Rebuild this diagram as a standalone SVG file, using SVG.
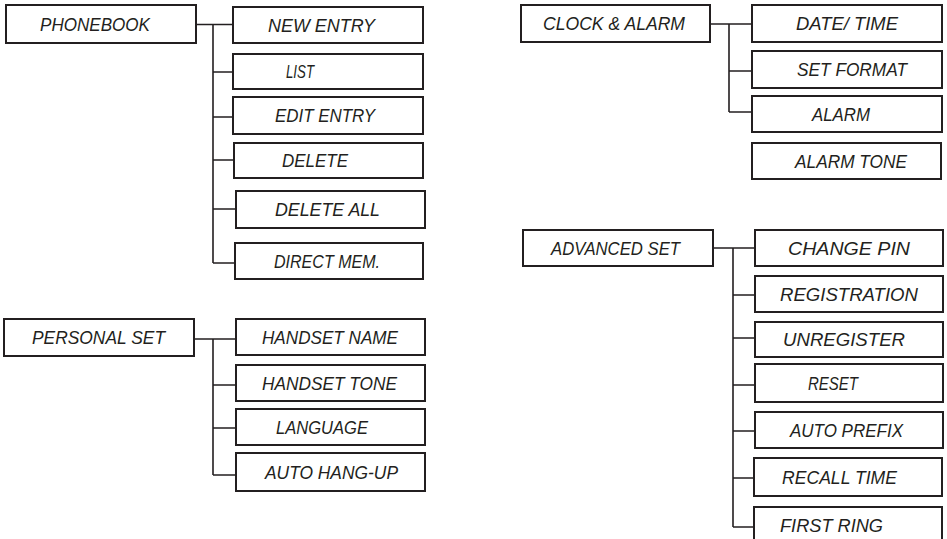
<svg xmlns="http://www.w3.org/2000/svg" width="947" height="539" viewBox="0 0 947 539">
<style>
.box{fill:#fff;stroke:#231f20;stroke-width:2}
.lbl{font-family:"Liberation Sans","DejaVu Sans",sans-serif;font-style:italic;font-size:18px;fill:#231f20}
.con{fill:none;stroke:#231f20;stroke-width:1.6}
</style>
<rect width="947" height="539" fill="#fff"/>
<g id="connectors">
<path class="con" d="M196 24.5H233M213 24.5V263M213 72H233M213 117H233M213 160H234M213 209H236M213 263H235"/>
<path class="con" d="M194 339H236M213 339V475M213 385H236M213 428H236M213 475H236"/>
<path class="con" d="M710 24H752M729 24V112M729 71H752M729 112H752"/>
<path class="con" d="M713 248H755M733 248V527M733 295H755M733 338H755M733 385H755M733 431H755M733 478H754M733 527H754"/>
</g>
<g id="phonebook"><rect class="box" x="6" y="5" width="190" height="38"/><text class="lbl" x="40" y="31" textLength="110" lengthAdjust="spacingAndGlyphs">PHONEBOOK</text></g>
<g id="new-entry"><rect class="box" x="233" y="7" width="190" height="36"/><text class="lbl" x="268" y="31.5" textLength="107" lengthAdjust="spacingAndGlyphs">NEW ENTRY</text></g>
<g id="list"><rect class="box" x="233" y="54" width="190" height="35"/><text class="lbl" x="286" y="78" textLength="28" lengthAdjust="spacingAndGlyphs">LIST</text></g>
<g id="edit-entry"><rect class="box" x="233" y="97" width="190" height="37"/><text class="lbl" x="275" y="122" textLength="100" lengthAdjust="spacingAndGlyphs">EDIT ENTRY</text></g>
<g id="delete"><rect class="box" x="234" y="143" width="189" height="35"/><text class="lbl" x="282" y="167" textLength="66" lengthAdjust="spacingAndGlyphs">DELETE</text></g>
<g id="delete-all"><rect class="box" x="236" y="191" width="189" height="37"/><text class="lbl" x="275" y="216" textLength="105" lengthAdjust="spacingAndGlyphs">DELETE ALL</text></g>
<g id="direct-mem"><rect class="box" x="235" y="243" width="188" height="36"/><text class="lbl" x="274" y="267.5" textLength="106" lengthAdjust="spacingAndGlyphs">DIRECT MEM.</text></g>
<g id="personal-set"><rect class="box" x="4" y="319" width="190" height="37"/><text class="lbl" x="32" y="344" textLength="133" lengthAdjust="spacingAndGlyphs">PERSONAL SET</text></g>
<g id="handset-name"><rect class="box" x="236" y="319" width="189" height="36"/><text class="lbl" x="262" y="343.5" textLength="136" lengthAdjust="spacingAndGlyphs">HANDSET NAME</text></g>
<g id="handset-tone"><rect class="box" x="236" y="365" width="189" height="36"/><text class="lbl" x="262" y="389.5" textLength="135" lengthAdjust="spacingAndGlyphs">HANDSET TONE</text></g>
<g id="language"><rect class="box" x="236" y="409" width="189" height="36"/><text class="lbl" x="276" y="433.5" textLength="92" lengthAdjust="spacingAndGlyphs">LANGUAGE</text></g>
<g id="auto-hang-up"><rect class="box" x="236" y="453" width="189" height="38"/><text class="lbl" x="265" y="478.5" textLength="133" lengthAdjust="spacingAndGlyphs">AUTO HANG-UP</text></g>
<g id="clock-alarm"><rect class="box" x="521" y="5" width="189" height="37"/><text class="lbl" x="543" y="30" textLength="142" lengthAdjust="spacingAndGlyphs">CLOCK &amp; ALARM</text></g>
<g id="date-time"><rect class="box" x="752" y="5" width="190" height="37"/><text class="lbl" x="796" y="30" textLength="102" lengthAdjust="spacingAndGlyphs">DATE/ TIME</text></g>
<g id="set-format"><rect class="box" x="752" y="51" width="190" height="37"/><text class="lbl" x="797" y="76" textLength="110" lengthAdjust="spacingAndGlyphs">SET FORMAT</text></g>
<g id="alarm"><rect class="box" x="752" y="96" width="190" height="36"/><text class="lbl" x="812" y="120.5" textLength="58" lengthAdjust="spacingAndGlyphs">ALARM</text></g>
<g id="alarm-tone"><rect class="box" x="752" y="143" width="189" height="36"/><text class="lbl" x="795" y="167.5" textLength="112" lengthAdjust="spacingAndGlyphs">ALARM TONE</text></g>
<g id="advanced-set"><rect class="box" x="523" y="230" width="190" height="36"/><text class="lbl" x="551" y="254.5" textLength="129" lengthAdjust="spacingAndGlyphs">ADVANCED SET</text></g>
<g id="change-pin"><rect class="box" x="755" y="230" width="188" height="36"/><text class="lbl" x="788" y="254.5" textLength="122" lengthAdjust="spacingAndGlyphs">CHANGE PIN</text></g>
<g id="registration"><rect class="box" x="755" y="276" width="188" height="36"/><text class="lbl" x="780" y="300.5" textLength="138" lengthAdjust="spacingAndGlyphs">REGISTRATION</text></g>
<g id="unregister"><rect class="box" x="755" y="322" width="188" height="35"/><text class="lbl" x="783" y="346" textLength="122" lengthAdjust="spacingAndGlyphs">UNREGISTER</text></g>
<g id="reset"><rect class="box" x="755" y="364" width="188" height="38"/><text class="lbl" x="808" y="389.5" textLength="50" lengthAdjust="spacingAndGlyphs">RESET</text></g>
<g id="auto-prefix"><rect class="box" x="755" y="412" width="188" height="36"/><text class="lbl" x="790" y="436.5" textLength="113" lengthAdjust="spacingAndGlyphs">AUTO PREFIX</text></g>
<g id="recall-time"><rect class="box" x="754" y="458" width="188" height="38"/><text class="lbl" x="782" y="483.5" textLength="115" lengthAdjust="spacingAndGlyphs">RECALL TIME</text></g>
<g id="first-ring"><rect class="box" x="754" y="507" width="188" height="40"/><text class="lbl" x="780" y="531.5" textLength="103" lengthAdjust="spacingAndGlyphs">FIRST RING</text></g>
</svg>
